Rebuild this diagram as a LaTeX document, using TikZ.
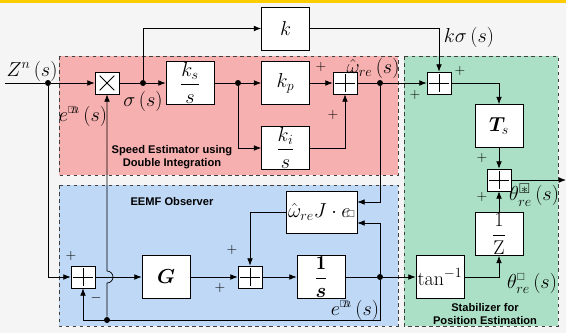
\documentclass[tikz,border=0pt]{standalone}
\usepackage{amsmath,amssymb,bm,mathtools}
\usepackage{fontspec}
\newfontfamily\labelfont{Liberation Sans}
\usetikzlibrary{arrows.meta, positioning, calc}

\definecolor{speedfill}{RGB}{246,176,176}
\definecolor{eemffill}{RGB}{190,216,246}
\definecolor{stabfill}{RGB}{172,224,198}
\definecolor{bgfill}{RGB}{245,245,245}
\definecolor{topbar}{RGB}{255,204,0}

\begin{document}
\begin{tikzpicture}[
    x=0.03cm, y=-0.03cm,
    line width=0.6pt,
    block/.style={rectangle, draw, fill=white, inner sep=0pt,
      minimum width=1.44cm, minimum height=1.29cm,
      font=\fontsize{17}{19}\selectfont},
    sumnode/.style={rectangle, draw, fill=white, inner sep=0pt,
      minimum width=0.72cm, minimum height=0.66cm,
      path picture={\draw[line width=0.7pt]
        ([yshift=-0.27cm]path picture bounding box.center) --
        ([yshift=0.27cm]path picture bounding box.center)
        ([xshift=-0.29cm]path picture bounding box.center) --
        ([xshift=0.29cm]path picture bounding box.center);}},
    multnode/.style={rectangle, draw, fill=white, inner sep=0pt,
      minimum width=0.72cm, minimum height=0.66cm,
      path picture={\draw[line width=0.7pt]
        ([shift={(-0.22cm,-0.22cm)}]path picture bounding box.center) --
        ([shift={(0.22cm,0.22cm)}]path picture bounding box.center)
        ([shift={(-0.22cm,0.22cm)}]path picture bounding box.center) --
        ([shift={(0.22cm,-0.22cm)}]path picture bounding box.center);}},
    region/.style={draw=black!75, dashed, line width=0.6pt},
    regionlabel/.style={font=\labelfont\bfseries\fontsize{9.5}{11}\selectfont,
      align=center},
    sig/.style={font=\fontsize{17.5}{19}\selectfont, inner sep=0pt},
    sgn/.style={font=\fontsize{13}{15}\selectfont, inner sep=0pt},
    arr/.style={-{Latex[length=2.2mm, width=1.7mm]}},
    dot/.style={circle, fill, inner sep=0pt, minimum size=0.18cm},
]

% ── Background and regions ──
\useasboundingbox (0,0) rectangle (566,333);
\fill[bgfill] (0,0) rectangle (566,333);
\fill[topbar] (0,0) rectangle (566,2.5);
\draw[region, fill=speedfill] (59,56) rectangle (398,175);
\draw[region, fill=eemffill] (59,185) rectangle (398,326);
\draw[region, fill=stabfill] (404,56) rectangle (558,326);

\node[regionlabel] at (172,157) {Speed Estimator using\\Double Integration};
\node[regionlabel] at (172,202) {EEMF Observer};
\node[regionlabel] at (485,314) {Stabilizer for\\Position Estimation};

% ── Blocks ──
\node[block] (kblk) at (285.5,28.5) {$k$};
\node[multnode] (mult) at (107,83) {};
\node[block] (ksblk) at (190,83) {$\dfrac{k_s}{s}$};
\node[block] (kpblk) at (285.5,83) {$k_p$};
\node[block] (kiblk) at (285.5,148) {$\dfrac{k_i}{s}$};
\node[sumnode] (sumw) at (345,83) {};
\node[sumnode] (sumk) at (439,83) {};
\node[block] (tsblk) at (499,126) {$\bm{T}_{s}$};
\node[sumnode] (sumth) at (499,180) {};
\node[block] (zblk) at (499,234) {$\dfrac{1}{\mathrm{Z}}$};
\node[block] (atan) at (440,277) {$\tan^{-1}$};
\node[sumnode] (sume) at (83,277) {};
\node[block] (gblk) at (166,277) {$\bm{G}$};
\node[sumnode] (sumg) at (250,277) {};
\node[block] (intblk) at (321,277) {$\dfrac{\mathbf{1}}{\bm{s}}$};
\node[block, minimum width=2.13cm, minimum height=1.26cm] (fbblk) at (321.5,212)
  {$\hat{\omega}_{re}J\cdot e\mkern-3mu{\scriptscriptstyle\square}$};

% ── Junctions ──
\coordinate (zin) at (5,83);
\coordinate (out) at (566,180);
\coordinate (jr) at (380,320);
\node[dot] (jz) at (48,83) {};
\node[dot] (js) at (143,83) {};
\node[dot] (jk) at (238,83) {};
\node[dot] (jw) at (380,83) {};
\node[dot] (je) at (380,277) {};
\node[dot] (jb) at (107,320) {};

% ── Speed estimator ──
\draw (zin) -- (jz);
\draw[arr] (jz) -- (mult);
\draw[arr] (jz) |- (sume);
\draw (mult) -- (js);
\draw[arr] (js) -- (ksblk);
\draw[arr] (js) |- (kblk);
\draw[arr] (kblk) -| (sumk);
\draw (ksblk) -- (jk);
\draw[arr] (jk) -- (kpblk);
\draw[arr] (jk) |- (kiblk);
\draw[arr] (kpblk) -- (sumw);
\draw[arr] (kiblk) -| (sumw);
\draw (sumw) -- (jw);
\draw[arr] (jw) -- (sumk);

% ── Stabilizer ──
\draw[arr] (sumk) -| (tsblk);
\draw[arr] (tsblk) -- (sumth);
\draw[arr] (zblk) -- (sumth);
\draw[arr] (sumth) -- (out);
\draw[arr] (atan) -| (zblk);

% ── EEMF observer ──
\draw[arr] (jw) |- ([yshift=0.3cm]fbblk.east);
\draw[arr] (je) |- ([yshift=-0.33cm]fbblk.east);
\draw[arr] (fbblk) -| (sumg);
\draw[arr] (sume) -- (gblk);
\draw[arr] (gblk) -- (sumg);
\draw[arr] (sumg) -- (intblk);
\draw (intblk) -- (je);
\draw[arr] (je) -- (atan);
\draw[arr] (je) -- (jr) -| (sume);
\draw[arr] (jb) -- (107,283) arc[start angle=-90, end angle=90, radius=0.18cm]
  -- (mult);

% ── Signal labels ──
\node[sig] at (32,71) {$Z^{n}\,(s)$};
\node[sig] at (143,101) {$\sigma\,(s)$};
\node[sig] at (83,116) {$e^{\mathrlap{\scriptscriptstyle\square}\mkern4mu n}\,(s)$};
\node[sig] at (373,68) {$\hat{\omega}_{re}\,(s)$};
\node[sig] at (469,37) {$k\sigma\,(s)$};
\node[sig] at (534,195) {$\theta^{\mathrlap{\square}\mkern3mu *}_{re}\,(s)$};
\node[sig] at (532,283) {$\theta^{\scriptscriptstyle\square}_{re}\,(s)$};
\node[sig] at (355,310) {$e^{\mathrlap{\scriptscriptstyle\square}\mkern4mu n}\,(s)$};

% ── Signs ──
\node[sgn] at (321,67) {$+$};
\node[sgn] at (333,115) {$+$};
\node[sgn] at (460,71) {$+$};
\node[sgn] at (415,95) {$+$};
\node[sgn] at (482,158) {$+$};
\node[sgn] at (482,197) {$+$};
\node[sgn] at (71,256) {$+$};
\node[sgn] at (96,298) {$-$};
\node[sgn] at (232,250) {$+$};
\node[sgn] at (220,288) {$+$};

\end{tikzpicture}
\end{document}
